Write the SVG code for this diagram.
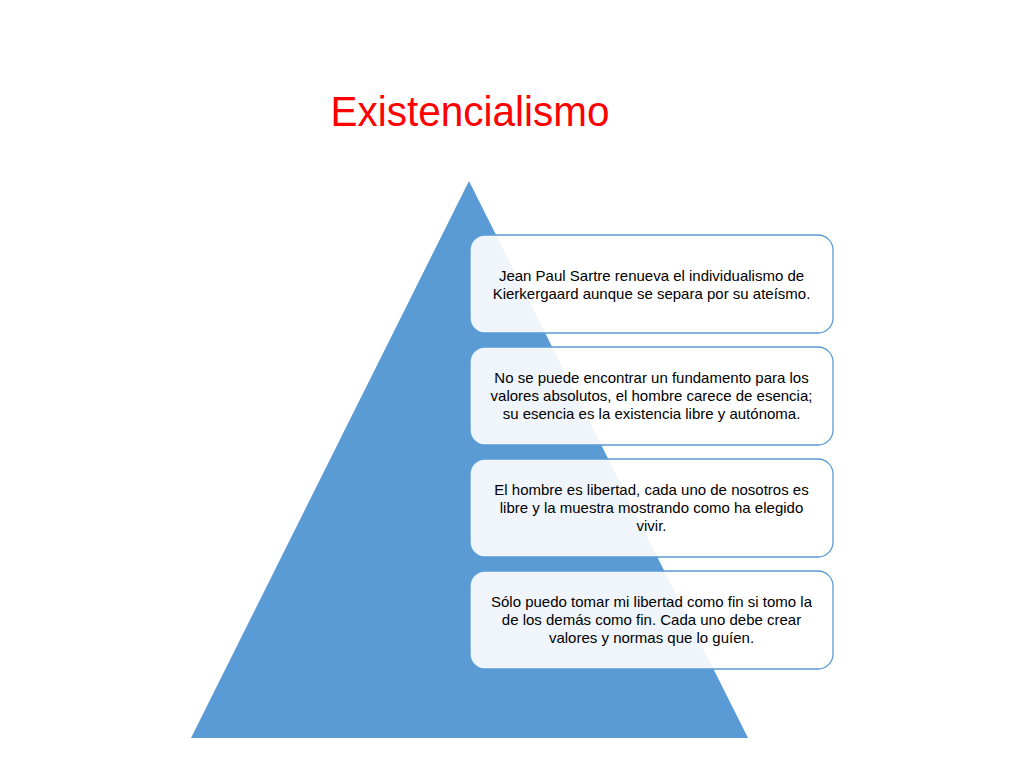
<svg xmlns="http://www.w3.org/2000/svg" width="1024" height="768" viewBox="0 0 1024 768">
<style>
.box{fill:#ffffff;fill-opacity:0.9;stroke:#5b9bd5;stroke-width:1.3}
.t{font-family:"Liberation Sans",Arial,sans-serif;font-size:15px;fill:#000;text-anchor:middle}
</style>
<rect width="1024" height="768" fill="#ffffff"/>
<text x="470" y="126" font-family="'Liberation Sans',Arial,sans-serif" font-size="43" fill="#ff0000" text-anchor="middle" textLength="279" lengthAdjust="spacingAndGlyphs">Existencialismo</text>
<g id="pyramid"><polygon points="469,181 748,738 191,738" fill="#5b9bd5"/></g>
<g id="connectors"></g>
<g id="node1"><rect class="box" x="470" y="235" width="363" height="98" rx="15"/>
<text class="t" x="651.5" y="281">Jean Paul Sartre renueva el individualismo de</text>
<text class="t" x="651.5" y="299">Kierkergaard aunque se separa por su ateísmo.</text></g>
<g id="node2"><rect class="box" x="470" y="347" width="363" height="98" rx="15"/>
<text class="t" x="651.5" y="383">No se puede encontrar un fundamento para los</text>
<text class="t" x="651.5" y="401">valores absolutos, el hombre carece de esencia;</text>
<text class="t" x="651.5" y="419">su esencia es la existencia libre y autónoma.</text></g>
<g id="node3"><rect class="box" x="470" y="459" width="363" height="98" rx="15"/>
<text class="t" x="651.5" y="495">El hombre es libertad, cada uno de nosotros es</text>
<text class="t" x="651.5" y="513">libre y la muestra mostrando como ha elegido</text>
<text class="t" x="651.5" y="531">vivir.</text></g>
<g id="node4"><rect class="box" x="470" y="571" width="363" height="98" rx="15"/>
<text class="t" x="651.5" y="607">Sólo puedo tomar mi libertad como fin si tomo la</text>
<text class="t" x="651.5" y="625">de los demás como fin. Cada uno debe crear</text>
<text class="t" x="651.5" y="643">valores y normas que lo guíen.</text></g>
</svg>
